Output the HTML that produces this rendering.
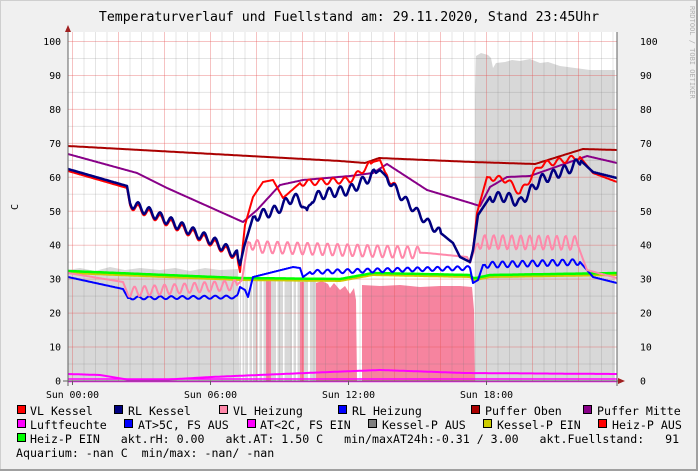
<!DOCTYPE html>
<html><head><meta charset="utf-8"><style>
html,body{margin:0;padding:0;background:#f0f0f0;}
svg{display:block;}
text{font-family:"DejaVu Sans Mono","Liberation Mono",monospace;white-space:pre;}
</style></head><body>
<svg id="s" width="698" height="471" viewBox="0 0 698 471" xmlns="http://www.w3.org/2000/svg">
<rect x="0" y="0" width="698" height="471" fill="#f0f0f0"/>
<rect x="0.5" y="0.5" width="697" height="470" fill="none" stroke="#cfcfcf"/>
<line x1="697" y1="0" x2="697" y2="471" stroke="#a0a0a0" stroke-width="2"/>
<line x1="0" y1="470" x2="698" y2="470" stroke="#a0a0a0" stroke-width="2"/>
<text x="349" y="21" font-size="13.2" text-anchor="middle" fill="#000">Temperaturverlauf und Fuellstand am: 29.11.2020, Stand 23:45Uhr</text>
<text transform="translate(690,6) rotate(90)" font-size="7" fill="#b0b0b0">RRDTOOL / TOBI OETIKER</text>
<text transform="translate(18,207) rotate(-90)" font-size="10" text-anchor="middle">C</text>
<rect x="68" y="32" width="549" height="349" fill="#fff"/>
<g id="fills">
<polygon fill="#d8d8d8" points="68,381 68,270 80,268 95,271 110,267 125,270 140,268 160,270 175,268 190,271 205,268 220,270 238,269 240,381"/>
<rect x="240" y="278" width="76" height="103" fill="#d8d8d8"/>
<g fill="#fff"><rect x="241" y="278" width="1.5" height="103"/><rect x="244" y="278" width="1.5" height="103"/><rect x="248" y="278" width="1.5" height="103"/><rect x="252" y="278" width="1" height="103"/><rect x="258" y="278" width="1.5" height="103"/><rect x="262" y="278" width="1.5" height="103"/><rect x="276" y="278" width="1.5" height="103"/><rect x="283" y="278" width="1.5" height="103"/><rect x="292" y="278" width="1.5" height="103"/><rect x="296" y="278" width="1.5" height="103"/><rect x="308" y="278" width="2" height="103"/></g>
<g fill="#f6849f">
<rect x="266" y="281" width="5" height="100"/>
<rect x="300" y="282" width="4" height="99"/>
<polygon points="316,381 316,283 322,281 328,284 330,288 334,283 340,290 345,286 350,294 354,288 356,300 357,381"/>
<polygon points="362,381 362,285 380,286 400,285 420,287 440,286 460,286 472,287 474,310 475,381"/>
</g>
<polygon fill="#d8d8d8" points="475,381 475,100 476,56 481,53 488,55 491,58 493,68 496,63 505,62 512,60 520,61 530,59 540,63 548,62 560,66 575,68 590,70 615,70 615,381"/>
</g>
<g id="grid"></g>
<g id="lines" fill="none" stroke-linejoin="round"></g>
<!-- axes -->
<line x1="68" y1="26" x2="68" y2="386" stroke="#606060"/>
<polygon points="65,32 71,32 68,25" fill="#a02020"/>
<line x1="63" y1="381" x2="622" y2="381" stroke="#606060"/>
<polygon points="618,378 618,384 625,381" fill="#a02020"/>
<line x1="617" y1="32" x2="617" y2="386" stroke="#606060"/>
<g id="ticks" font-size="9.8" fill="#000"></g>
<g font-size="11.6" fill="#000" stroke="none">
<g stroke="#000" stroke-width="1">
<rect x="17.5" y="405.5" width="8" height="8" fill="#ff0000"/>
<rect x="114.5" y="405.5" width="8" height="8" fill="#000080"/>
<rect x="219.5" y="405.5" width="8" height="8" fill="#ff88aa"/>
<rect x="338.5" y="405.5" width="8" height="8" fill="#0000ff"/>
<rect x="471.5" y="405.5" width="8" height="8" fill="#aa0000"/>
<rect x="583.5" y="405.5" width="8" height="8" fill="#880088"/>
<rect x="17.5" y="419.5" width="8" height="8" fill="#ff00ff"/>
<rect x="124.5" y="419.5" width="8" height="8" fill="#0000ff"/>
<rect x="247.5" y="419.5" width="8" height="8" fill="#ff00ff"/>
<rect x="368.5" y="419.5" width="8" height="8" fill="#808080"/>
<rect x="483.5" y="419.5" width="8" height="8" fill="#cccc00"/>
<rect x="598.5" y="419.5" width="8" height="8" fill="#ff0000"/>
<rect x="17.5" y="433.5" width="8" height="8" fill="#00ff00"/>
</g>
<text x="30" y="415">VL Kessel</text>
<text x="128" y="415">RL Kessel</text>
<text x="233" y="415">VL Heizung</text>
<text x="352" y="415">RL Heizung</text>
<text x="485" y="415">Puffer Oben</text>
<text x="597" y="415">Puffer Mitte</text>
<text x="30" y="429">Luftfeuchte</text>
<text x="138" y="429">AT&gt;5C, FS AUS</text>
<text x="260" y="429">AT&lt;2C, FS EIN</text>
<text x="382" y="429">Kessel-P AUS</text>
<text x="497" y="429">Kessel-P EIN</text>
<text x="612" y="429">Heiz-P AUS</text>
<text x="30" y="443">Heiz-P EIN   akt.rH: 0.00   akt.AT: 1.50 C   min/maxAT24h:-0.31 / 3.00   akt.Fuellstand:   91</text>
<text x="16" y="457">Aquarium: -nan C  min/max: -nan/ -nan</text>
</g>
</svg>
<script>
var NS="http://www.w3.org/2000/svg";
function el(p,n,a){var e=document.createElementNS(NS,n);for(var k in a)e.setAttribute(k,a[k]);p.appendChild(e);return e;}
var g=document.getElementById('grid');
for(var v=0;v<=100;v+=5){var y=381-3.395*v;if(y<32)continue;
 el(g,'line',{x1:68,x2:617,y1:y,y2:y,stroke:v%10==0?'rgba(230,80,80,0.35)':'rgba(120,120,120,0.2)','stroke-width':1});}
for(var x=72.5-11.5;x<617;x+=11.5){if(x<68)continue;var k=Math.round((x-72.5)/11.5);
 el(g,'line',{x1:x,x2:x,y1:32,y2:381,stroke:k%4==0?'rgba(230,80,80,0.35)':'rgba(120,120,120,0.2)','stroke-width':1});}
var t=document.getElementById('ticks');
for(var v=0;v<=100;v+=10){var y=381-3.395*v;
 var a=el(t,'text',{x:61,y:y+3.5,'text-anchor':'end'});a.textContent=v;
 var b=el(t,'text',{x:640,y:y+3.5});b.textContent=v;}
var labs=[[72.5,'Sun 00:00'],[210.5,'Sun 06:00'],[348.5,'Sun 12:00'],[486.5,'Sun 18:00']];
labs.forEach(function(l){var a=el(t,'text',{x:l[0],y:398,'text-anchor':'middle'});a.textContent=l[1];
 el(t,'line',{x1:l[0],x2:l[0],y1:381,y2:385,stroke:'#606060'});});
function interp(k,x){for(var i=0;i<k.length-1;i++){if(x<=k[i+1][0]){var f=(x-k[i][0])/((k[i+1][0]-k[i][0])||1);return k[i][1]+f*(k[i+1][1]-k[i][1]);}}return k[k.length-1][1];}
function series(k,osc,col,w){var pts=[];
 for(var x=k[0][0];x<=k[k.length-1][0];x+=1){var y=interp(k,x);
  osc.forEach(function(o){if(x>=o[0]&&x<=o[1])y+=o[2]*Math.sin(2*Math.PI*(x-o[0])/o[3]);});
  pts.push(x+','+y.toFixed(1));}
 el(document.getElementById('lines'),'polyline',{points:pts.join(' '),stroke:col,'stroke-width':w,fill:'none'});}
series([[68,381.5],[617,381.5]],[],'#ff00ff',1.5);
series([[68,379],[617,379]],[],'#ff00ff',1.5);
series([[68,374],[100,375],[130,380],[160,380],[211,377],[330,372],[380,370],[465,373],[617,374]],[],'#ff00ff',2);
series([[68,273],[240,280],[340,281],[373,275],[470,277],[473,280],[476,280],[490,277],[617,275]],[],'#cccc00',2);
series([[68,271],[240,278],[340,279],[373,273],[470,275],[473,278],[476,278],[490,275],[617,273]],[],'#00ff00',2.5);
series([[68,277],[123,289],[128,298],[237,297],[240,287],[245,290],[248,297],[253,277],[293,267],[300,268],[303,277],[310,272],[350,271],[470,268],[473,283],[478,280],[483,265],[580,262],[593,277],[617,283]],[[130,237,1.5,11],[310,470,2,10],[485,580,3,10]],'#0000ff',2);
series([[68,273],[123,282],[127,292],[237,285],[242,280],[248,242],[260,247],[427,253],[467,257],[470,263],[476,245],[480,242],[577,243],[587,270],[617,278]],[[127,237,5,10],[250,420,6,10],[478,577,7,9]],'#ff88aa',2);
series([[68,146],[340,161],[365,163],[379,158],[473,162],[535,164],[583,149],[617,150]],[],'#aa0000',2);
series([[68,154],[137,173],[167,188],[243,222],[257,210],[280,185],[303,180],[350,176],[373,173],[387,164],[427,190],[467,202],[480,206],[490,187],[507,177],[530,176],[587,156],[617,163]],[],'#880088',2);
series([[68,171],[127,188],[130,205],[213,243],[237,257],[240,272],[245,225],[253,197],[263,182],[273,180],[283,198],[300,183],[350,180],[373,162],[380,160],[385,172],[400,195],[427,222],[453,243],[460,257],[470,262],[473,250],[477,213],[487,177],[507,180],[520,193],[540,165],[580,157],[593,173],[617,182]],[[130,237,4,11],[387,440,4,11],[300,370,3,12],[490,580,3,12]],'#ff0000',2);
series([[68,169],[127,186],[130,203],[213,241],[237,255],[240,265],[244,247],[253,217],[277,210],[293,197],[303,203],[307,215],[312,198],[327,193],[350,190],[373,175],[380,170],[385,175],[400,195],[427,222],[453,243],[460,257],[470,262],[473,250],[478,215],[490,197],[507,197],[520,203],[540,180],[573,167],[580,160],[593,172],[617,178]],[[130,237,4.5,11],[255,375,5,11],[387,440,4,11],[490,580,5,11]],'#000080',2.5);
</script>
</body></html>
